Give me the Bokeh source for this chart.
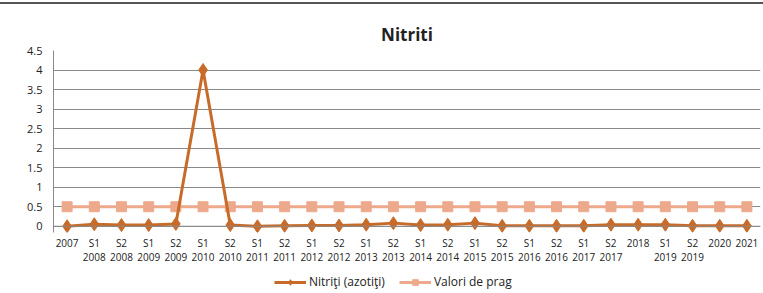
from bokeh.plotting import figure
from bokeh.models import (Range1d, FixedTicker, CustomJSTickFormatter, Legend, LegendItem, Span,
                          CategoricalAxis)
from bokeh.layouts import column
from bokeh.embed import file_html
from bokeh.resources import INLINE

periods = ["", "S1", "S2", "S1", "S2", "S1", "S2", "S1", "S2", "S1", "S2", "S1", "S2",
           "S1", "S2", "S1", "S2", "S1", "S2", "S1", "S2", "", "S1", "S2", "", ""]
years = ["2007", "2008", "2008", "2009", "2009", "2010", "2010", "2011", "2011", "2012", "2012",
         "2013", "2013", "2014", "2014", "2015", "2015", "2016", "2016", "2017", "2017", "2018",
         "2019", "2019", "2020", "2021"]
categories = [(s + " " + y).strip() for s, y in zip(periods, years)]
nitriti = [0.0, 0.05, 0.03, 0.03, 0.06, 4.0, 0.03, 0.0, 0.01, 0.02, 0.02, 0.04, 0.08,
           0.03, 0.04, 0.08, 0.01, 0.01, 0.01, 0.01, 0.04, 0.04, 0.04, 0.01, 0.01, 0.01]
prag = [0.5] * len(categories)
y_ticks = [0, 0.5, 1, 1.5, 2, 2.5, 3, 3.5, 4, 4.5]
series_names = ["Nitriţi (azotiţi)", "Valori de prag"]

FONT = "Open Sans"
C_N = "#C86B28"
C_P = "#EDA98C"
TXT = "#222222"

p = figure(x_range=categories, y_range=Range1d(-0.16, 4.5), width=763, height=268,
           output_backend="svg", toolbar_location=None,
           min_border_left=53, min_border_right=3, min_border_top=46, min_border_bottom=40)
p.styles = {"border-top": "2px solid #555555", "margin-top": "2px"}

p.title.text = "Nitriti"
p.title.align = "center"
p.title.text_font = FONT
p.title.text_font_size = "17px"
p.title.text_font_style = "bold"
p.title.text_color = TXT
p.title.standoff = 10

p.outline_line_color = None
p.xgrid.grid_line_color = None
p.ygrid.grid_line_color = "#8a8a8a"
p.ygrid.grid_line_width = 1

p.yaxis.ticker = FixedTicker(ticks=y_ticks)
p.yaxis.formatter = CustomJSTickFormatter(code="return tick.toString();")
p.yaxis.major_tick_line_color = None
p.yaxis.minor_tick_line_color = None
p.yaxis.major_tick_out = 0
p.yaxis.major_tick_in = 0
p.yaxis.axis_line_color = "#8a8a8a"
p.yaxis.major_label_text_font = FONT
p.yaxis.major_label_text_font_size = "11px"
p.yaxis.major_label_text_color = TXT
p.yaxis.major_label_standoff = 11

row1 = {c: (s if s else y) for c, s, y in zip(categories, periods, years)}
row2 = {c: (y if s else "") for c, s, y in zip(categories, periods, years)}
code = "const v = lab[tick]; return (v === undefined) ? tick : v;"
xa1 = p.xaxis[0]
xa1.formatter = CustomJSTickFormatter(args=dict(lab=row1), code=code)
xa2 = CategoricalAxis(formatter=CustomJSTickFormatter(args=dict(lab=row2), code=code))
p.add_layout(xa2, "below")
for ax, so in ((xa1, 3), (xa2, 0)):
    ax.axis_line_color = None
    ax.major_tick_line_color = None
    ax.minor_tick_line_color = None
    ax.major_tick_out = 0
    ax.major_tick_in = 0
    ax.major_label_text_font = FONT
    ax.major_label_text_font_size = "10px"
    ax.major_label_text_color = TXT
    ax.major_label_standoff = so

p.add_layout(Span(location=0, dimension="width", line_color="#8a8a8a", line_width=1))

p.line(categories, prag, line_color=C_P, line_width=3)
p.scatter(categories, prag, marker="square", size=10, fill_color=C_P, line_color=C_P)
p.line(categories, nitriti, line_color=C_N, line_width=3)
p.scatter(categories, nitriti, marker="diamond", size=13, fill_color=C_N, line_color=C_N)

# legend strip below the chart (same series, drawn outside the strip's visible range)
q = figure(x_range=categories, y_range=Range1d(10, 11), width=763, height=21,
           output_backend="svg", toolbar_location=None,
           x_axis_location=None, y_axis_location=None,
           min_border_left=0, min_border_right=0, min_border_top=0, min_border_bottom=0)
q.outline_line_color = None
q.grid.grid_line_color = None
ln = q.line(categories, nitriti, line_color=C_N, line_width=3)
sn = q.scatter(categories, nitriti, marker="diamond", size=13, fill_color=C_N, line_color=C_N)
lp = q.line(categories, prag, line_color=C_P, line_width=3)
sp = q.scatter(categories, prag, marker="square", size=10, fill_color=C_P, line_color=C_P)
legend = Legend(items=[LegendItem(label=series_names[0], renderers=[ln, sn]),
                       LegendItem(label=series_names[1], renderers=[lp, sp])],
                orientation="horizontal", location=(221, 1),
                label_text_font=FONT, label_text_font_size="12px", label_text_color=TXT,
                glyph_width=32, glyph_height=14, spacing=14, padding=2, margin=0,
                border_line_color=None, background_fill_alpha=0, label_standoff=3)
q.add_layout(legend, "center")

layout = column(p, q, spacing=0)
open("out.html", "w").write(file_html(layout, INLINE))
